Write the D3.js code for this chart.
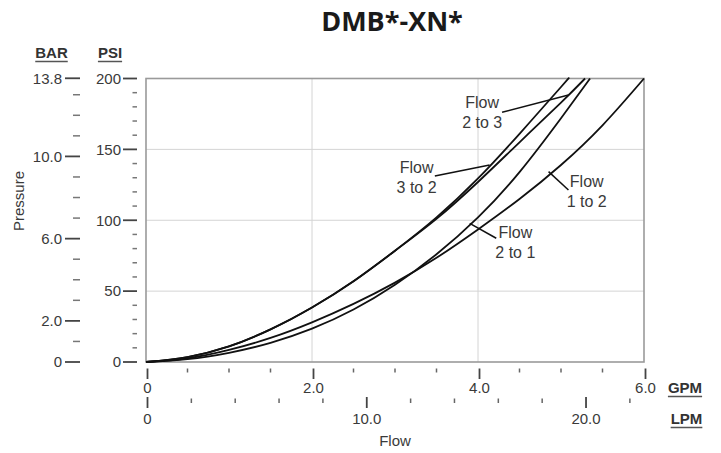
<!DOCTYPE html>
<html>
<head>
<meta charset="utf-8">
<script src="https://cdn.jsdelivr.net/npm/d3@7"></script>
<style>
  html, body { margin: 0; padding: 0; background: #fff; }
  svg { display: block; }
  text { font-family: "Liberation Sans", Arial, sans-serif; fill: #3a3a3a; }
</style>
</head>
<body>
<svg id="chart" width="721" height="453"></svg>
<script>
// ---------------- DATA ----------------
const chartTitle = "DMB*-XN*";
const seriesNames = ["Flow 1 to 2", "Flow 2 to 1", "Flow 2 to 3", "Flow 3 to 2"];

const flow1to2 = [0, 0.5, 1, 1.5, 2, 2.5, 3, 3.5, 4, 4.5, 5, 5.5, 6];
const psi1to2  = [0, 2.6, 8.5, 17, 28, 41, 56, 73.5, 93.5, 115, 139, 167, 200];

const flow2to1 = [0, 0.5, 1, 1.5, 2, 2.5, 3, 3.5, 4, 4.5, 5, 5.35];
const psi2to1  = [0, 2, 6.5, 13.5, 23.5, 37, 54.5, 76, 102, 134, 172, 200];

const flow2to3 = [0, 0.5, 1, 1.5, 2, 2.5, 3, 3.5, 4, 4.5, 5, 5.29];
const psi2to3  = [0, 3.5, 11, 23, 38.5, 57, 78.5, 101, 127, 155, 183, 200];

const flow3to2 = [0, 0.5, 1, 1.5, 2, 2.5, 3, 3.5, 4, 4.5, 5, 5.09];
const psi3to2  = [0, 3.5, 11, 23, 38.5, 57, 78.5, 102, 129.5, 161, 194, 200];

// axis ticks
const psiMajor = [0, 50, 100, 150, 200];
const psiMinor = [10, 20, 30, 40, 60, 70, 80, 90, 110, 120, 130, 140, 160, 170, 180, 190];
const barMajor = [0, 2, 6, 10, 13.8];
const barMajorLabels = ["0", "2.0", "6.0", "10.0", "13.8"];
const barMinor = [1, 3, 4, 5, 7, 8, 9, 11, 12, 13];
const gpmMajor = [0, 2, 4, 6];
const gpmMajorLabels = ["0", "2.0", "4.0", "6.0"];
const gpmMinor = [0.5, 1, 1.5, 2.5, 3, 3.5, 4.5, 5, 5.5];
const lpmMajor = [0, 10, 20];
const lpmMajorLabels = ["0", "10.0", "20.0"];
const lpmMinor = [2, 4, 6, 8, 12, 14, 16, 18, 22];

// ---------------- LAYOUT ----------------
const svg = d3.select("#chart");
const L = 146, R = 644, T = 78.5, B = 362;
const PSI_PER_BAR = 14.5038, LPM_PER_GPM = 3.78541;

const x = d3.scaleLinear().domain([0, 6]).range([L, R]);
const y = d3.scaleLinear().domain([0, 200]).range([B, T]);
const yBar = d3.scaleLinear().domain([0, 200 / PSI_PER_BAR]).range([B, T]);
const xLpm = d3.scaleLinear().domain([0, 6 * LPM_PER_GPM]).range([L, R]);

// title
svg.append("text").attr("x", 392).attr("y", 31).attr("text-anchor", "middle")
  .style("font-family", "'Open Sans', sans-serif").style("font-weight", "bold")
  .style("font-size", "27px").style("fill", "#1a1a1a").text(chartTitle);

// gridlines
const grid = svg.append("g").attr("stroke", "#d4d4d4").attr("stroke-width", 1);
grid.selectAll("line.gx").data([2, 4]).join("line")
  .attr("x1", d => x(d)).attr("x2", d => x(d)).attr("y1", T).attr("y2", B);
grid.selectAll("line.gy").data([50, 100, 150]).join("line")
  .attr("x1", L).attr("x2", R).attr("y1", d => y(d)).attr("y2", d => y(d));

// frame
svg.append("rect").attr("x", L).attr("y", T).attr("width", R - L).attr("height", B - T)
  .attr("fill", "none").attr("stroke", "#9a9a9a").attr("stroke-width", 1.6);

// ---- PSI axis ----
const psiAxis = svg.append("g");
psiAxis.selectAll("line.maj").data(psiMajor).join("line")
  .attr("x1", 123).attr("x2", 137).attr("y1", d => y(d)).attr("y2", d => y(d))
  .attr("stroke", "#444").attr("stroke-width", 1.8);
psiAxis.selectAll("line.min").data(psiMinor).join("line")
  .attr("x1", 132.5).attr("x2", 137).attr("y1", d => y(d)).attr("y2", d => y(d))
  .attr("stroke", "#777").attr("stroke-width", 1.5);
psiAxis.selectAll("text").data(psiMajor).join("text")
  .attr("x", 121).attr("y", d => y(d)).attr("dy", "0.35em").attr("text-anchor", "end")
  .style("font-size", "15px").text(d => d);

// ---- BAR axis ----
const barAxis = svg.append("g");
barAxis.selectAll("line.maj").data(barMajor).join("line")
  .attr("x1", 65).attr("x2", 80).attr("y1", d => yBar(d)).attr("y2", d => yBar(d))
  .attr("stroke", "#444").attr("stroke-width", 1.8);
barAxis.selectAll("line.min").data(barMinor).join("line")
  .attr("x1", 73).attr("x2", 80).attr("y1", d => yBar(d)).attr("y2", d => yBar(d))
  .attr("stroke", "#777").attr("stroke-width", 1.5);
barAxis.selectAll("text").data(barMajor).join("text")
  .attr("x", 62).attr("y", d => yBar(d)).attr("dy", "0.35em").attr("text-anchor", "end")
  .style("font-size", "15px").text((d, i) => barMajorLabels[i]);

// unit headers
function unitLabel(cx, baseline, txt) {
  const t = svg.append("text").attr("x", cx).attr("y", baseline).attr("text-anchor", "middle")
    .style("font-size", "15px").style("font-weight", "bold").style("fill", "#333").text(txt);
  const w = t.node().getComputedTextLength();
  svg.append("line").attr("x1", cx - w / 2).attr("x2", cx + w / 2)
    .attr("y1", baseline + 3.5).attr("y2", baseline + 3.5)
    .attr("stroke", "#555").attr("stroke-width", 1.5);
}
unitLabel(51.5, 58, "BAR");
unitLabel(110, 58, "PSI");
unitLabel(685, 393, "GPM");
unitLabel(686.5, 424, "LPM");

// Pressure label
svg.append("text").attr("transform", "translate(24,201) rotate(-90)")
  .attr("text-anchor", "middle").style("font-size", "15px").text("Pressure");

// ---- GPM axis ----
const gpmAxis = svg.append("g");
gpmAxis.selectAll("line.maj").data(gpmMajor).join("line")
  .attr("x1", d => x(d) + 1.5).attr("x2", d => x(d) + 1.5).attr("y1", 368.5).attr("y2", 379)
  .attr("stroke", "#444").attr("stroke-width", 1.8);
gpmAxis.selectAll("line.min").data(gpmMinor).join("line")
  .attr("x1", d => x(d)).attr("x2", d => x(d)).attr("y1", 368.5).attr("y2", 372.5)
  .attr("stroke", "#666").attr("stroke-width", 1.5);
gpmAxis.selectAll("text").data(gpmMajor).join("text")
  .attr("x", d => x(d) + 1.5).attr("y", 393).attr("text-anchor", "middle")
  .style("font-size", "15px").text((d, i) => gpmMajorLabels[i]);

// ---- LPM axis ----
const lpmAxis = svg.append("g");
lpmAxis.selectAll("line.maj").data(lpmMajor).join("line")
  .attr("x1", d => xLpm(d) + 1.5).attr("x2", d => xLpm(d) + 1.5).attr("y1", 397).attr("y2", 408)
  .attr("stroke", "#444").attr("stroke-width", 1.8);
lpmAxis.selectAll("line.min").data(lpmMinor).join("line")
  .attr("x1", d => xLpm(d) + 1.5).attr("x2", d => xLpm(d) + 1.5).attr("y1", 398.5).attr("y2", 403)
  .attr("stroke", "#666").attr("stroke-width", 1.5);
lpmAxis.selectAll("text").data(lpmMajor).join("text")
  .attr("x", d => xLpm(d) + 1.5).attr("y", 424).attr("text-anchor", "middle")
  .style("font-size", "15px").text((d, i) => lpmMajorLabels[i]);

// Flow title
svg.append("text").attr("x", 395).attr("y", 446).attr("text-anchor", "middle")
  .style("font-size", "15px").text("Flow");

// ---- curves ----
const series = [
  { name: seriesNames[0], q: flow1to2, p: psi1to2 },
  { name: seriesNames[1], q: flow2to1, p: psi2to1 },
  { name: seriesNames[2], q: flow2to3, p: psi2to3 },
  { name: seriesNames[3], q: flow3to2, p: psi3to2 }
];
const line = d3.line().x(d => x(d[0])).y(d => y(d[1])).curve(d3.curveNatural);
svg.append("g").selectAll("path").data(series).join("path")
  .attr("d", s => line(s.q.map((q, i) => [q, s.p[i]])))
  .attr("fill", "none").attr("stroke", "#111").attr("stroke-width", 1.8);

// ---- annotations (positions in data units) ----
const notes = [
  { l1: "Flow", l2: "2 to 3", tx: 4.05, ty1: 179.2, ty2: 165.1, from: [4.29, 176.2], to: [5.09, 188.4] },
  { l1: "Flow", l2: "3 to 2", tx: 3.26, ty1: 133.3, ty2: 119.0, from: [3.48, 131.2], to: [4.14, 139] },
  { l1: "Flow", l2: "1 to 2", tx: 5.31, ty1: 123.2, ty2: 109.1, from: [5.09, 121.3], to: [4.85, 134.3] },
  { l1: "Flow", l2: "2 to 1", tx: 4.45, ty1: 87.3, ty2: 73.2, from: [4.22, 87.3], to: [3.90, 97.8] }
];
const ann = svg.append("g");
notes.forEach(n => {
  ann.append("text").attr("x", x(n.tx)).attr("y", y(n.ty1)).attr("text-anchor", "middle")
    .style("font-size", "16px").text(n.l1);
  ann.append("text").attr("x", x(n.tx)).attr("y", y(n.ty2)).attr("text-anchor", "middle")
    .style("font-size", "16px").text(n.l2);
  ann.append("line").attr("x1", x(n.from[0])).attr("y1", y(n.from[1]))
    .attr("x2", x(n.to[0])).attr("y2", y(n.to[1]))
    .attr("stroke", "#111").attr("stroke-width", 1.5);
});
</script>
</body>
</html>
